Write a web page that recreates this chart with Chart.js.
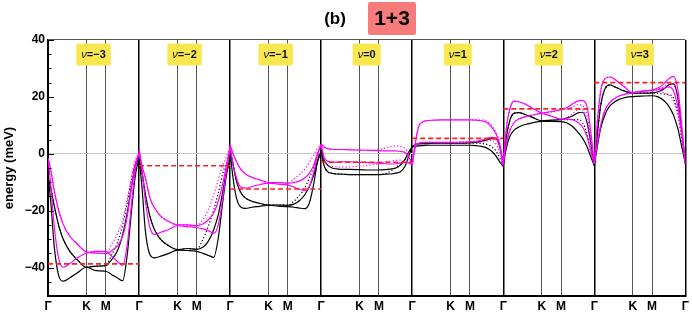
<!DOCTYPE html>
<html>
<head>
<meta charset="utf-8">
<script src="https://cdn.jsdelivr.net/npm/chart.js@4"></script>
<style>
html, body { margin: 0; padding: 0; background: #fff; }
</style>
</head>
<body>
<canvas id="grafico" width="692" height="315"></canvas>
<script>
// path fraction along Γ-K-M-Γ (K at 1/2.366, M at 1.5/2.366)
const kPath = [0, 0.03, 0.07, 0.12, 0.17, 0.24, 0.32, 0.4226, 0.53, 0.634, 0.7, 0.76, 0.82, 0.87, 0.92, 0.96, 1];
const highSym = ['Γ', 'K', 'M'];
const highSymPos = [0, 0.4226, 0.634];
const fillings = ['−3', '−2', '−1', '0', '1', '2', '3'];
const fermiLevel = [-38.7, -4.2, -12.4, -3.0, 5.4, 15.8, 25];
const yTicks = [-40, -20, 0, 20, 40];

const magentaA = [
    [-1.5, -5.6, -13.2, -20.2, -25, -29, -31.7, -34.5, -34.9, -35.1, -34, -32.5, -29, -22, -10.9, -3.3, 0.2],
    [1.4, -3.9, -8.5, -15.6, -19, -22, -23.7, -25, -25, -25.3, -24.7, -23.2, -20.8, -16.7, -10.3, -3.9, 2.5],
    [3.2, 0.2, -2.7, -5.6, -7.1, -8.3, -9.1, -10.1, -10.1, -10.3, -10.1, -9.6, -8.5, -6.8, -3.9, 0.2, 3.2],
    [3.5, 2.5, 1.8, 1.6, 1.5, 1.5, 1.4, 1.3, 1.2, 1.1, 1.0, 1.0, 1.0, 0.8, 0.5, -1, -4],
    [-4, 3, 9.5, 11.3, 11.7, 11.8, 11.9, 11.9, 11.9, 11.9, 11.8, 11.6, 11, 9.5, 7, 3.5, -4],
    [-3.5, 8, 15.5, 18.5, 18.3, 17.5, 16, 14.3, 13.2, 12.2, 12.2, 12, 11, 9.5, 6, 1, -3.5],
    [-3.5, 10, 22, 26.5, 27, 25.8, 23.8, 21.5, 22, 22.3, 22.6, 23, 23.5, 22, 16, 7, -3.5]
];
const magentaB = [
    [-1.5, -10.9, -26, -37.2, -39.9, -38.6, -36.6, -34.9, -34.3, -34.3, -36, -37.8, -39.2, -32, -16.7, -5, 0.2],
    [1.4, -5, -16.7, -26, -28.4, -27.6, -26.7, -25.3, -25.6, -26, -26.4, -27, -28, -25, -15.6, -6.2, 2.5],
    [3.2, -3.3, -8.5, -11.8, -12.1, -11.5, -10.9, -10.3, -10.7, -11, -11.7, -12.4, -13, -11.5, -6.2, -0.4, 3.2],
    [3.5, -1, -2.5, -2.9, -2.9, -2.8, -2.8, -3, -3.1, -3.3, -3.5, -3.6, -3.5, -3.2, -3, -3.2, -4],
    [-4, 2, 3.7, 4, 4, 4, 4, 4, 4.1, 4.2, 4.4, 4.8, 5.3, 5.8, 5.5, 3, -4],
    [-3.5, 3, 8, 11, 12.2, 13, 13.6, 14.3, 14.8, 15.5, 16.3, 17.5, 18.6, 18.8, 16.5, 8, -3.5],
    [-3.5, 3, 10, 15.5, 18, 19.8, 20.8, 21.5, 22, 22.4, 23.2, 24.5, 26.5, 27.2, 22, 10, -3.5]
];
const magentaDotA = [
    [-1.5, -5.6, -13.2, -20.2, -25, -29, -31.7, -34.5, -34.9, -35.1, -31.7, -28.4, -23.2, -16.1, -7.4, -2.1, 0.2],
    [1.4, -3.9, -8.5, -15.6, -19, -22, -23.7, -25, -25, -25.3, -23.2, -19.7, -14.4, -9.1, -3.9, -1, 2.5],
    [3.2, 0.2, -2.7, -5.6, -7.1, -8.3, -9.1, -10.1, -10.1, -10.3, -8.9, -7.4, -5.4, -3, -0.4, 2, 3.2],
    [3.5, 2.5, 1.8, 1.6, 1.5, 1.5, 1.4, 1.3, 1.2, 1.4, 2.0, 2.5, 2.8, 2.6, 1.8, 0, -4],
    [-4, 3, 9.5, 11.3, 11.7, 11.8, 11.9, 11.9, 11.9, 11.9, 11.9, 11.9, 11.5, 10, 7.5, 4, -4],
    [-3.5, 8, 15.5, 18.5, 18.3, 17.5, 16, 14.3, 13.2, 12.2, 12.8, 14, 15.5, 15.5, 11.5, 4, -3.5],
    [-3.5, 10, 22, 26.5, 27, 25.8, 23.8, 21.5, 22, 22.3, 22, 21.5, 20.5, 18.5, 13, 5, -3.5]
];
const magentaDotB = [
    null,
    null,
    null,
    [3.5, -2, -3.8, -4.4, -4.6, -4.7, -4.6, -4.4, -4, -3.5, -3.0, -2.6, -2.3, -2.2, -2.5, -3.2, -4],
    [-4, 2, 3.7, 4, 4, 4, 4, 4, 4.1, 4.2, 4.2, 4.2, 4.5, 4.8, 3.5, 0.5, -4],
    [-3.5, 3, 8, 11, 12.2, 13, 13.6, 14.3, 14.8, 15.5, 15.8, 16.5, 17.3, 17, 13.5, 6, -3.5],
    [-3.5, 3, 10, 15.5, 18, 19.8, 20.8, 21.5, 22, 22.4, 22.8, 23.5, 24.5, 24, 19, 8, -3.5]
];
const blackA = [
    [-8, -12, -18.5, -25.5, -30.2, -34.3, -37.2, -39.9, -39.5, -39.3, -37.2, -34.3, -28.4, -20.8, -10.9, -4.4, -1.5],
    [-2.1, -6.2, -14.4, -22, -26.7, -30.2, -32.2, -33.7, -33.3, -33.6, -32.9, -30.8, -26.7, -21.4, -13.2, -6.2, -2],
    [0.8, -3.3, -9.7, -13.8, -15.6, -16.7, -17.4, -18, -18, -18.1, -17.7, -16.5, -14.4, -11.5, -7.4, -2.7, 0.8],
    [1.4, -2, -4, -5, -5.3, -5.5, -5.5, -5.6, -5.7, -5.7, -5.6, -5.4, -5, -4, -2, 0.5, 2.5],
    [2.5, 3.2, 3.5, 3.6, 3.6, 3.7, 3.7, 3.7, 3.7, 3.8, 4, 4.4, 4.9, 5.3, 5.2, 2.5, -4],
    [-4.2, 5, 11.5, 14.3, 14.5, 13.8, 12.8, 11.6, 11.8, 12, 12.6, 13.3, 14.4, 14.6, 11, 4, -4.2],
    [-4, 6, 17, 23, 24.2, 23.3, 22.2, 21.3, 21.3, 21.4, 21.8, 22.7, 24.3, 24.6, 19, 8, -3.5]
];
const blackB = [
    [-8, -16.7, -33.1, -43.1, -44.8, -43.6, -41.9, -39.9, -41.1, -41.3, -42.5, -43.6, -44.6, -35.5, -19, -7.4, -1.5],
    [-2.1, -10.9, -27.3, -35.5, -36.6, -36, -35.1, -33.9, -34, -34.3, -35, -35.7, -36.4, -29.6, -16.7, -7.4, -2],
    [0.8, -8, -15.6, -18.8, -19.2, -18.8, -18.5, -18.1, -18.4, -18.6, -18.8, -19.1, -19.3, -17.3, -10.3, -2.7, 0.8],
    [1.4, -4, -6.3, -6.9, -7.1, -7.2, -7.3, -7.3, -7.3, -7.3, -7.2, -7.1, -6.8, -6.3, -4.5, -1, 2.5],
    [2.5, 2.6, 2.8, 2.9, 3, 3, 3, 3, 3, 3, 2.9, 2.6, 2, 1, -0.8, -2.8, -4.5],
    [-4.2, 1.5, 6, 8.3, 9.4, 10.3, 10.9, 11.4, 11.4, 11.3, 10.8, 9.6, 7.6, 5.5, 2.5, -1, -4.2],
    [-4, 2, 9, 14, 16.8, 18.6, 19.6, 20.1, 20.3, 20.4, 20, 18.8, 16.6, 13.5, 8.5, 2.5, -3.5]
];
const blackDot = [
    [-8, -12, -18.5, -25.5, -30.2, -34.3, -37.2, -39.9, -39.5, -39.3, -35.5, -31.4, -25, -17.3, -8.5, -3.3, -1.5],
    [-2.1, -6.2, -14.4, -22, -26.7, -30.2, -32.2, -33.7, -33.3, -33.6, -30.2, -25.5, -19.7, -13.8, -6.8, -3.3, -2],
    [0.8, -3.3, -9.7, -13.8, -15.6, -16.7, -17.4, -18, -18, -18.1, -16.7, -14.7, -12, -8.5, -4.4, -1, 0.8],
    [1.4, -4, -6.3, -6.9, -7.1, -7.2, -7.3, -7.3, -7.3, -7.3, -7, -6.2, -4.8, -3.5, -2, 0, 2.5],
    [2.5, 3.2, 3.5, 3.6, 3.6, 3.7, 3.7, 3.7, 3.7, 3.8, 3.7, 3.6, 3.3, 2.5, 1, -1.5, -4.5],
    [-4.2, 5, 11.5, 14.3, 14.5, 13.8, 12.8, 11.6, 11.8, 12, 12, 12, 12, 11, 7, 1, -4.2],
    [-4, 6, 17, 23, 24.2, 23.3, 22.2, 21.3, 21.3, 21.4, 21.2, 21, 20.8, 19.5, 14, 5, -3.5]
];

const fonte = '"Liberation Sans", Arial, sans-serif';

function serie(painel, valores) {
    return valores.map((e, i) => ({ x: painel + kPath[i], y: e }));
}

const tickPos = [];
const tickLabels = [];
for (let p = 0; p < fillings.length; p++) {
    highSymPos.forEach((t, i) => {
        tickPos.push(p + t);
        tickLabels.push(highSym[i]);
    });
}
tickPos.push(fillings.length);
tickLabels.push('Γ');

const datasets = [];
fermiLevel.forEach((e, p) => {
    datasets.push({ data: [{ x: p, y: e }, { x: p + 1, y: e }], borderColor: '#ff1f1f', borderWidth: 1.6, borderDash: [5, 3] });
});
function addBands(lista, cor, dash) {
    lista.forEach((valores, p) => {
        if (!valores) return;
        datasets.push({ data: serie(p, valores), borderColor: cor, borderWidth: 1.2, borderDash: dash });
    });
}
addBands(magentaA, '#ff00ff', []);
addBands(magentaB, '#ff00ff', []);
addBands(magentaDotA, '#ff00ff', [1.2, 2.2]);
addBands(magentaDotB, '#ff00ff', [1.2, 2.2]);
addBands(blackA, '#000000', []);
addBands(blackB, '#000000', []);
addBands(blackDot, '#000000', [1.2, 2.2]);

const decor = {
    id: 'decor',
    afterDraw(chart) {
        const ctx = chart.ctx;
        const area = chart.chartArea;
        const x = chart.scales.x;
        const y = chart.scales.y;
        ctx.save();

        // top frame
        ctx.strokeStyle = '#555';
        ctx.lineWidth = 1.2;
        ctx.beginPath();
        ctx.moveTo(area.left, area.top - 0.5);
        ctx.lineTo(area.right, area.top - 0.5);
        ctx.stroke();

        // inward ticks on the energy axis
        ctx.strokeStyle = '#000';
        ctx.lineWidth = 1;
        for (let v = -50; v <= 40; v += 5) {
            const py = Math.round(y.getPixelForValue(v)) + 0.5;
            const len = v % 20 === 0 ? 6 : 3.5;
            ctx.beginPath();
            ctx.moveTo(area.left, py);
            ctx.lineTo(area.left + len, py);
            ctx.stroke();
        }

        // filling labels
        fillings.forEach((n, p) => {
            const cx = (x.getPixelForValue(p) + x.getPixelForValue(p + 1)) / 2;
            ctx.font = 'italic 11px ' + fonte;
            const w1 = ctx.measureText('ν').width;
            ctx.font = 'bold 11px ' + fonte;
            const w2 = ctx.measureText('=' + n).width;
            const w = w1 + w2 + 10;
            ctx.fillStyle = '#f9e74f';
            ctx.beginPath();
            ctx.roundRect(cx - w / 2, 43.5, w, 22, 2);
            ctx.fill();
            ctx.fillStyle = '#111';
            ctx.textBaseline = 'middle';
            ctx.textAlign = 'left';
            ctx.font = 'italic 11px ' + fonte;
            ctx.fillText('ν', cx - w / 2 + 5, 55);
            ctx.font = 'bold 11px ' + fonte;
            ctx.fillText('=' + n, cx - w / 2 + 5 + w1, 55);
        });

        // title
        ctx.fillStyle = '#000';
        ctx.font = 'bold 17px ' + fonte;
        ctx.textAlign = 'center';
        ctx.textBaseline = 'middle';
        ctx.fillText('(b)', 335, 19);
        ctx.fillStyle = '#f87b7b';
        ctx.beginPath();
        ctx.roundRect(368, 2, 48, 33, 2);
        ctx.fill();
        ctx.fillStyle = '#000';
        ctx.font = 'bold 21px ' + fonte;
        ctx.fillText('1+3', 392, 19);

        ctx.restore();
    }
};

new Chart(document.getElementById('grafico'), {
    type: 'line',
    data: { datasets: datasets },
    options: {
        responsive: false,
        animation: false,
        events: [],
        elements: {
            point: { radius: 0 },
            line: { cubicInterpolationMode: 'monotone', fill: false }
        },
        layout: { padding: { top: 40, right: 4, left: 0, bottom: 0 } },
        plugins: { legend: { display: false }, tooltip: { enabled: false } },
        scales: {
            x: {
                type: 'linear',
                min: 0,
                max: fillings.length,
                afterBuildTicks: s => { s.ticks = tickPos.map(v => ({ value: v })); },
                afterFit: s => { s.height = 19; },
                ticks: {
                    autoSkip: false,
                    maxRotation: 0,
                    padding: 3,
                    color: '#000',
                    font: { family: fonte, size: 12, weight: 'bold' },
                    callback: (v, i) => tickLabels[i]
                },
                grid: {
                    drawTicks: false,
                    color: c => (c.tick && Number.isInteger(Math.round(c.tick.value * 1e6) / 1e6)) ? '#000' : '#555',
                    lineWidth: c => (c.tick && Number.isInteger(Math.round(c.tick.value * 1e6) / 1e6)) ? 1.5 : 1
                },
                border: { color: '#000', width: 2 }
            },
            y: {
                min: -50,
                max: 40,
                afterBuildTicks: s => { s.ticks = yTicks.map(v => ({ value: v })); },
                afterFit: s => { s.width = 48; },
                ticks: {
                    padding: 3,
                    color: '#000',
                    font: { family: fonte, size: 12, weight: 'bold' },
                    callback: v => String(v).replace('-', '−')
                },
                grid: {
                    drawTicks: false,
                    color: c => (c.tick && c.tick.value === 0) ? '#c8c8c8' : 'rgba(0,0,0,0)'
                },
                border: { color: '#000', width: 2 },
                title: {
                    display: true,
                    text: 'energy (meV)',
                    color: '#000',
                    font: { family: fonte, size: 13, weight: 'bold' },
                    padding: { top: 2, bottom: 0 }
                }
            }
        }
    },
    plugins: [decor]
});
</script>
</body>
</html>
